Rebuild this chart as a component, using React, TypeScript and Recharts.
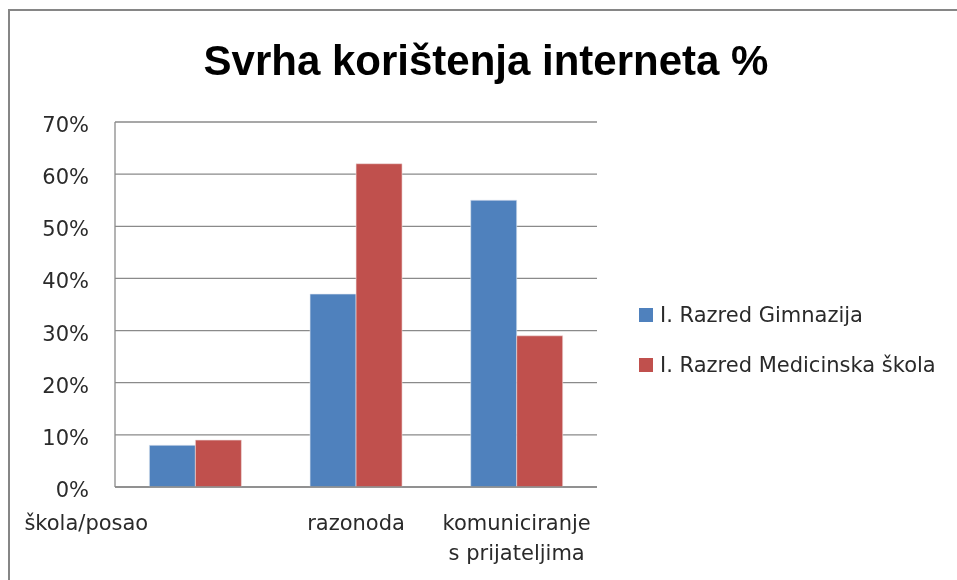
import React from 'react';
import { BarChart, Bar, XAxis, YAxis, CartesianGrid, Legend } from 'recharts';

const title = 'Svrha korištenja interneta %';
const categories = ['škola/posao', 'razonoda', 'komuniciranje\ns prijateljima'];
const gimnazija = [8, 37, 55];
const medicinska = [9, 62, 29];
const yTicks = [0, 10, 20, 30, 40, 50, 60, 70];
const seriesNames = ['I. Razred Gimnazija', 'I. Razred Medicinska škola'];
const colors = ['#4F81BD', '#C0504D'];

const data = categories.map((c, i) => ({ name: c, g: gimnazija[i], m: medicinska[i] }));

const SMALL_FONT = '"DejaVu Sans", sans-serif';
const TEXT_COLOR = '#2a2a2a';

const XTick = (props: any) => {
  const { x, y, payload, index } = props;
  const lines = String(payload.value).split('\n');
  const dx = index === 0 ? -109 : 0;
  return (
    <text x={x + dx} y={y} textAnchor="middle" fill={TEXT_COLOR} fontFamily={SMALL_FONT} fontSize={21}>
      {lines.map((l: string, i: number) => (
        <tspan key={i} x={x + dx} dy={i === 0 ? 43 : 30}>{l}</tspan>
      ))}
    </text>
  );
};

const YTick = (props: any) => {
  const { x, y, payload } = props;
  return (
    <text x={x} y={y + 3} textAnchor="end" dominantBaseline="central" fill={TEXT_COLOR} fontFamily={SMALL_FONT} fontSize={21}>
      {`${payload.value}%`}
    </text>
  );
};

const LegendContent = () => (
  <div style={{ fontFamily: SMALL_FONT, fontSize: 21, color: TEXT_COLOR }}>
    {seriesNames.map((n, i) => (
      <div key={n} style={{ display: 'flex', alignItems: 'center', height: 50, whiteSpace: 'nowrap' }}>
        <span style={{ display: 'inline-block', width: 14, height: 14, background: colors[i], marginRight: 7 }} />
        <span>{n}</span>
      </div>
    ))}
  </div>
);

export default function App() {
  return (
    <div style={{ position: 'relative', width: 941, height: 564 }}>
      <div
        style={{
          position: 'fixed',
          left: 8,
          top: 9,
          width: 2000,
          height: 2000,
          borderLeft: '2px solid #868686',
          borderTop: '2px solid #868686',
          boxSizing: 'border-box',
        }}
      />
      <div
        style={{
          position: 'absolute',
          left: 0,
          top: 32,
          width: 956,
          textAlign: 'center',
          fontFamily: '"Liberation Sans", Arial, sans-serif',
          fontWeight: 'bold',
          fontSize: 42,
          lineHeight: '42px',
          color: '#000',
          whiteSpace: 'nowrap',
        }}
      >
        {title}
      </div>
      <div style={{ position: 'absolute', left: 0, top: 0 }}>
        <BarChart
          width={941}
          height={564}
          data={data}
          margin={{ top: 114, right: 352, bottom: 55, left: 0 }}
          barCategoryGap="21.4%"
          barGap={0}
        >
          <CartesianGrid vertical={false} stroke="#8a8a8a" strokeWidth={1.3} />
          <XAxis
            dataKey="name"
            height={30}
            interval={0}
            tickLine={false}
            tickSize={0}
            tickMargin={0}
            axisLine={{ stroke: '#8a8a8a', strokeWidth: 1.3 }}
            tick={<XTick />}
          />
          <YAxis
            width={107}
            domain={[0, 70]}
            ticks={yTicks}
            tickLine={false}
            tickSize={0}
            tickMargin={26}
            axisLine={{ stroke: '#8a8a8a', strokeWidth: 1.3 }}
            tick={<YTick />}
            interval={0}
          />
          <Legend
            align="center"
            verticalAlign="middle"
            content={<LegendContent />}
            wrapperStyle={{ left: 631, top: 282, width: 310, height: 100 }}
          />
          <Bar dataKey="g" name={seriesNames[0]} fill={colors[0]} stroke="#dfe6f0" strokeWidth={0.6} isAnimationActive={false} />
          <Bar dataKey="m" name={seriesNames[1]} fill={colors[1]} stroke="#f0dfdf" strokeWidth={0.6} isAnimationActive={false} />
        </BarChart>
      </div>
    </div>
  );
}
